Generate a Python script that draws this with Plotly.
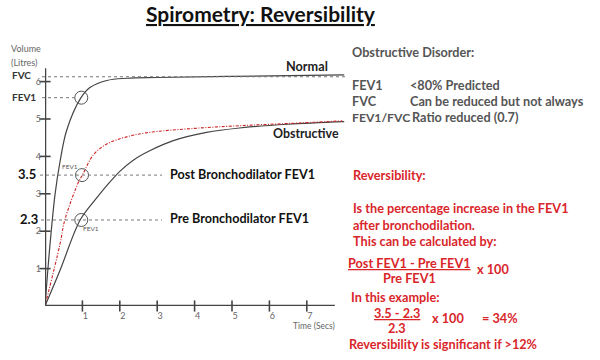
import plotly.graph_objects as go

# ---- data ----
normal_t = [0, 0.13, 0.27, 0.4, 0.58, 0.95, 1.2, 1.65, 2.2, 3.0, 5.0, 8.0]
normal_v = [0, 1.6, 3.0, 3.85, 4.7, 5.55, 5.84, 6.03, 6.09, 6.11, 6.14, 6.18]

post_t = [0, 0.4, 0.53, 0.89, 1.0, 1.3, 1.65, 2.1, 2.7, 4.0, 5.2, 6.5, 7.95]
post_v = [0, 1.65, 2.3, 3.3, 3.5, 4.05, 4.33, 4.5, 4.63, 4.75, 4.82, 4.88, 4.95]

obs_t = [0, 0.4, 0.94, 1.35, 1.68, 2.0, 2.36, 2.8, 3.43, 4.32, 5.2, 6.5, 8.0]
obs_v = [0, 0.95, 2.3, 2.85, 3.25, 3.6, 3.9, 4.15, 4.42, 4.64, 4.76, 4.86, 4.93]

fev1_t = [0.97, 0.99, 0.97]
fev1_v = [5.57, 3.5, 2.3]

fvc_value = 6.13
fev1_normal = 5.57
post_fev1 = 3.5
pre_fev1 = 2.3

x_ticks = [1, 2, 3, 4, 5, 6, 7]
y_ticks = [1, 2, 3, 4, 5, 6]

W, H = 600, 360
FONT = "Lato"
GREY = "#555555"
RED = "#d9262b"

def px(x):
    return x / W

def py(y):
    return 1 - y / H

# axis geometry (target pixels)
x0_px, y0_px, unit = 45, 306, 37.4
x_max, y_max = 8.1, 6.5

fig = go.Figure()

fig.add_trace(go.Scatter(x=normal_t, y=normal_v, mode="lines",
                         line=dict(color="#444444", width=1.2, shape="spline"),
                         hoverinfo="skip"))
fig.add_trace(go.Scatter(x=obs_t, y=obs_v, mode="lines",
                         line=dict(color="#444444", width=1.2, shape="spline"),
                         hoverinfo="skip"))
fig.add_trace(go.Scatter(x=post_t, y=post_v, mode="lines",
                         line=dict(color="#cc2222", width=1.1, shape="spline",
                                   dash="3px,1.5px,1px,1.5px"),
                         hoverinfo="skip"))
fig.add_trace(go.Scatter(x=fev1_t, y=fev1_v, mode="markers",
                         marker=dict(symbol="circle-open", size=13, color="#555555",
                                     line=dict(color="#555555", width=1)),
                         hoverinfo="skip"))
# tick crosses
fig.add_trace(go.Scatter(x=x_ticks, y=[0] * len(x_ticks), mode="markers",
                         marker=dict(symbol="line-ns", size=8, color="#444444",
                                     line=dict(color="#444444", width=1.6)),
                         cliponaxis=False, hoverinfo="skip"))
fig.add_trace(go.Scatter(x=[0] * len(y_ticks), y=y_ticks, mode="markers",
                         marker=dict(symbol="line-ew", size=8, color="#444444",
                                     line=dict(color="#444444", width=1.6)),
                         cliponaxis=False, hoverinfo="skip"))

# axis lines
fig.add_shape(type="line", x0=0, x1=7.75, y0=0, y1=0, xref="x", yref="y",
              line=dict(color="#444444", width=2.5))
fig.add_shape(type="line", x0=0, x1=0, y0=0, y1=6.36, xref="x", yref="y",
              line=dict(color="#444444", width=2.5))

# dotted reference lines
dot = dict(color="#777777", width=1, dash="dot")
fig.add_shape(type="line", xref="paper", yref="y", x0=px(42), x1=px(345),
              y0=fvc_value, y1=fvc_value, line=dot)
fig.add_shape(type="line", xref="paper", yref="y", x0=px(42), x1=px(75),
              y0=fev1_normal, y1=fev1_normal, line=dot)
fig.add_shape(type="line", xref="paper", yref="y", x0=px(40), x1=px(162),
              y0=post_fev1, y1=post_fev1, line=dot)
fig.add_shape(type="line", xref="paper", yref="y", x0=px(41), x1=px(162),
              y0=pre_fev1, y1=pre_fev1, line=dot)

ann = []

def text(x, y, s, size, color=GREY, anchor="left", bold=False, vanchor="middle"):
    ann.append(dict(x=px(x), y=py(y), xref="paper", yref="paper",
                    text=(f"<b>{s}</b>" if bold else s),
                    showarrow=False, xanchor=anchor, yanchor=vanchor,
                    font=dict(family=FONT, size=size, color=color)))

# title
text(261, 14, "<u>Spirometry: Reversibility</u>", 21, color="#111111", anchor="center", bold=True)

# axis titles
text(9, 49, "Volume", 9, color="#666666")
text(9, 62, "(Litres)", 9, color="#666666")
text(337, 326, "Time (Secs)", 8.5, color="#666666", anchor="right")

# left labels
text(33, 75, "FVC", 10, color="#333333", anchor="right", bold=True)
text(38, 97.5, "FEV1", 10, color="#333333", anchor="right", bold=True)
text(38, 174, f"{post_fev1}", 13, color="#111111", anchor="right", bold=True)
text(40, 219, f"{pre_fev1}", 13, color="#111111", anchor="right", bold=True)

# small FEV1 labels
text(70, 166, "FEV1", 6.5, color="#555555", anchor="center")
text(90.5, 228, "FEV1", 6.5, color="#555555", anchor="center")

# curve labels
text(307, 66, "Normal", 12.7, color="#222222", anchor="center", bold=True)
text(306, 133, "Obstructive", 12.4, color="#222222", anchor="center", bold=True)
text(168, 174.5, "Post Bronchodilator FEV1", 12.6, color="#111111", bold=True)
text(168, 219, "Pre Bronchodilator FEV1", 12.6, color="#111111", bold=True)

# right-side grey block
GS = 12.7
text(350, 52, "Obstructive Disorder:", GS, bold=True)
text(350, 85, "FEV1", GS, bold=True)
text(408, 85, "&lt;80% Predicted", GS, bold=True)
text(350, 101, "FVC", GS, bold=True)
text(408, 101, "Can be reduced but not always", GS, bold=True)
text(350, 117.5, "FEV1/FVC", 12.2, bold=True)
text(410, 117.5, "Ratio reduced (0.7)", GS, bold=True)

# red block
RS = 12.7
text(351, 175, "Reversibility:", RS, color=RED, bold=True)
text(351, 208, "Is the percentage increase in the FEV1", RS, color=RED, bold=True)
text(351, 224.5, "after bronchodilation.", RS, color=RED, bold=True)
text(351, 241, "This can be calculated by:", RS, color=RED, bold=True)
text(409, 262.5, "<u>Post FEV1 - Pre FEV1</u>", RS, color=RED, anchor="center", bold=True)
text(409, 278, "Pre FEV1", RS, color=RED, anchor="center", bold=True)
text(475, 269, "x 100", RS, color=RED, bold=True)
text(349, 297, "In this example:", RS, color=RED, bold=True)
text(397, 312.5, "<u>3.5 - 2.3</u>", RS, color=RED, anchor="center", bold=True)
text(397, 328, "2.3", RS, color=RED, anchor="center", bold=True)
text(430, 318, "x 100", RS, color=RED, bold=True)
text(480, 318, "= 34%", RS, color=RED, bold=True)
text(347, 344, "Reversibility is significant if &gt;12%", RS, color=RED, bold=True)

fig.update_layout(
    width=W, height=H,
    margin=dict(l=0, r=0, t=0, b=0),
    paper_bgcolor="white", plot_bgcolor="white",
    showlegend=False,
    hovermode=False,
    annotations=ann,
    xaxis=dict(range=[0, x_max],
               domain=[px(x0_px), px(x0_px + x_max * unit)],
               showgrid=False, zeroline=False, showline=False,
               tickvals=x_ticks, ticks="", ticklabelshift=3, ticklabelstandoff=3,
               tickfont=dict(family=FONT, size=9, color="#666666")),
    yaxis=dict(range=[0, y_max],
               domain=[py(y0_px), py(y0_px - y_max * unit)],
               showgrid=False, zeroline=False, showline=False,
               tickvals=y_ticks, ticks="", ticklabelstandoff=3,
               tickfont=dict(family=FONT, size=9, color="#666666")),
)

# remove the browser's default 8px page margin so the 600x360 figure fills the window
fig.write_html("out.html",
               config={"displayModeBar": False, "staticPlot": True},
               post_script="document.body.style.margin='0';document.body.style.overflow='hidden';")
